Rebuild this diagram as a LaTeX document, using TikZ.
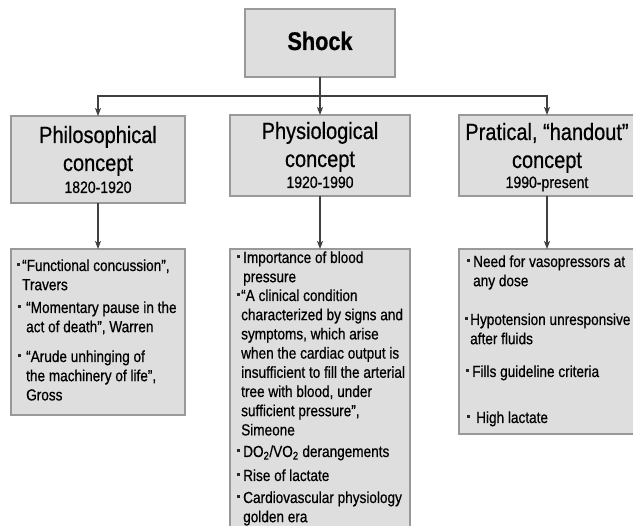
\documentclass[tikz,border=0pt]{standalone}
\usepackage{fontspec}
\setmainfont{Liberation Sans}[FakeStretch=0.85, FakeBold=0.6]
\usetikzlibrary{calc,arrows.meta}
\def\sqbullet(#1){\fill[black!85] ($(#1)+(0,-7.5)$) rectangle ++(3,3);}

\begin{document}
\begin{tikzpicture}[x=1pt,y=-1pt,
    box/.style={draw=black!40, fill=black!13, line width=1.4pt, inner sep=0pt, outer sep=0pt},
    link/.style={draw=black!75, line width=1.3pt, -{Stealth[length=8pt,width=6pt,inset=2pt]}},
    head/.style={font=\fontsize{23.5}{28}\selectfont, align=center, anchor=base, inner sep=0pt},
    years/.style={font=\fontsize{16.5}{20}\selectfont, anchor=base, inner sep=0pt},
    item/.style={font=\fontsize{16}{19.2}\selectfont, align=left, anchor=base west, inner sep=0pt}]
			%%%%% START %%%%%
			% multi-line nodes sit on the baseline of their last line
			
			\useasboundingbox[fill=white] (0,0) rectangle (633,526);
			
			\node[box, minimum width=150, minimum height=68] (shock) at (320,43) {};
			\node[font=\fontsize{25.5}{30}\selectfont\bfseries, anchor=base, inner sep=0pt] (shocktitle) at (320,50) {Shock};
			
			\node[box, minimum width=174, minimum height=87] (phil) at (98,159.5) {};
			\node[box, minimum width=180, minimum height=81] (physio) at (320,155.5) {};
			\node[box, minimum width=176, minimum height=81] (prat) at (547,155.5) {};
			
			\node[head] (philtitle) at (98,171) {Philosophical\\concept};
			\node[years] (philyears) at (98,193) {1820-1920};
			\node[head] (physiotitle) at (320,167) {Physiological\\concept};
			\node[years] (physioyears) at (320,188) {1920-1990};
			\node[head] (prattitle) at (547,168) {Pratical, “handout”\\concept};
			\node[years] (pratyears) at (547,188) {1990-present};
			
			\draw[link] (shock.south) -- (physio.north);
			\draw[link] (shock.south) -- ++(0,19) -| (phil.north);
			\draw[link] (shock.south) -- ++(0,19) -| (prat.north);
			
			\node[box, minimum width=174, minimum height=166] (philnotes) at (98,332) {};
			\node[box, minimum width=180, minimum height=286] (physionotes) at (320,392) {};
			\node[box, minimum width=176, minimum height=185] (pratnotes) at (547,341.5) {};
			
			\draw[link] (phil.south) -- (philnotes.north);
			\draw[link] (physio.south) -- (physionotes.north);
			\draw[link] (prat.south) -- (pratnotes.north);
			
			% philosophical
			\node[item] (travers) at (22,290.2) {“Functional concussion”,\\Travers};
			\node[item] (warren) at (26,332.2) {“Momentary pause in the\\act of death”, Warren};
			\node[item] (gross) at (26,400.4) {“Arude unhinging of\\the machinery of life”,\\Gross};
			\sqbullet(17,271)
			\sqbullet(18,313)
			\sqbullet(18,362)
			
			% physiological
			\node[item] (pressure) at (243,282.2) {Importance of blood\\pressure};
			\node[item] (simeone) at (241,435.4) {“A clinical condition\\characterized by signs and\\symptoms, which arise\\when the cardiac output is\\insufficient to fill the arterial\\tree with blood, under\\sufficient pressure”,\\Simeone};
			\node[item] (dovo) at (243,457) {DO\textsubscript{2}/VO\textsubscript{2} derangements};
			\node[item] (lactaterise) at (243,481) {Rise of lactate};
			\node[item] (goldenera) at (243,522.2) {Cardiovascular physiology\\golden era};
			\sqbullet(236.5,263)
			\sqbullet(236.5,301)
			\sqbullet(236.5,457)
			\sqbullet(236.5,481)
			\sqbullet(236.5,503)
			
			% pratical
			\node[item] (vaso) at (473,286.2) {Need for vasopressors at\\any dose};
			\node[item] (hypo) at (470,344.2) {Hypotension unresponsive\\after fluids};
			\node[item] (guide) at (472,377) {Fills guideline criteria};
			\node[item] (highlact) at (476,423) {High lactate};
			\sqbullet(467,267)
			\sqbullet(465,325)
			\sqbullet(466,377)
			\sqbullet(467,423)
			
			%%%%% END %%%%%
\end{tikzpicture}
\end{document}
